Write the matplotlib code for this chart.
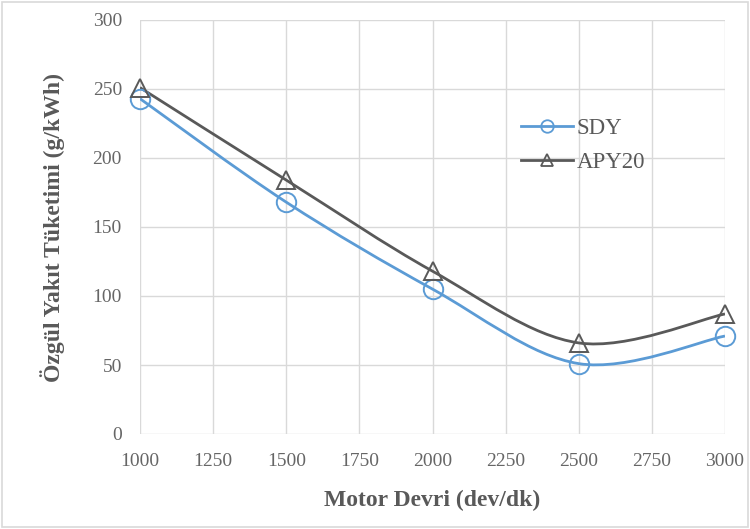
import matplotlib
matplotlib.use("Agg")
import matplotlib.pyplot as plt
from matplotlib.path import Path
from matplotlib.patches import PathPatch, Rectangle
from matplotlib.lines import Line2D
import numpy as np

rpm = [1000, 1500, 2000, 2500, 3000]
sdy = [243, 168, 105, 51, 71]
apy20 = [251, 184, 118, 66, 87]
x_ticks = [1000, 1250, 1500, 1750, 2000, 2250, 2500, 2750, 3000]
y_ticks = [0, 50, 100, 150, 200, 250, 300]

plt.rcParams['font.family'] = ['Liberation Serif', 'DejaVu Serif']

fig = plt.figure(figsize=(7.5, 5.29), dpi=100)
ax = fig.add_axes([140/750, 1-434/529, 585/750, 414/529])

def smooth_path(xs, ys):
    pts = np.column_stack([xs, ys]).astype(float)
    n = len(pts)
    verts = [pts[0]]
    codes = [Path.MOVETO]
    for i in range(n-1):
        p0 = pts[i-1] if i > 0 else pts[i]
        p1 = pts[i]
        p2 = pts[i+1]
        p3 = pts[i+2] if i+2 < n else pts[i+1]
        c1 = p1 + (p2 - p0) / 6.0
        c2 = p2 - (p3 - p1) / 6.0
        verts += [c1, c2, p2]
        codes += [Path.CURVE4]*3
    return Path(verts, codes)

blue = '#5b9bd5'
gray = '#595959'
for ys, col, mk in [(sdy, blue, 'o'), (apy20, gray, '^')]:
    patch = PathPatch(smooth_path(rpm, ys), facecolor='none', edgecolor=col, lw=2.0, zorder=3)
    ax.add_patch(patch)
    ax.plot(rpm, ys, linestyle='none', marker=mk, markersize=14 if mk == 'o' else 13,
            markerfacecolor='none', markeredgecolor=col, markeredgewidth=1.4, zorder=4,
            clip_on=False)

ax.set_xlim(1000, 3000)
ax.set_ylim(0, 300)
ax.set_xticks(x_ticks)
ax.set_yticks(y_ticks)
ax.grid(True, color='#d9d9d9', lw=1.0)
ax.set_axisbelow(True)
for s in ax.spines.values():
    s.set_visible(False)
ax.tick_params(length=0, colors='#666666', labelsize=14)
ax.tick_params(axis='x', pad=14)
ax.tick_params(axis='y', pad=13)
ax.set_xlabel('Motor Devri (dev/dk)', fontsize=17, fontweight='bold', color='#595959', labelpad=14)
ax.set_ylabel('Özgül Yakıt Tüketimi (g/kWh)', fontsize=17, fontweight='bold', color='#595959', labelpad=20)

handles = [Line2D([], [], color=blue, lw=2, marker='o', markersize=9, markerfacecolor='none', markeredgewidth=1.3),
           Line2D([], [], color=gray, lw=2, marker='^', markersize=8, markerfacecolor='none', markeredgewidth=1.3)]
leg = ax.legend(handles, ['SDY', 'APY20'], loc='upper left', bbox_to_anchor=(0.635, 0.785),
                frameon=False, fontsize=16.5, handlelength=2.3, handletextpad=0.15, labelspacing=0.55,
                labelcolor='#595959', borderaxespad=0)

fig.patches.append(Rectangle((0.003, 0.003), 0.994, 0.994, transform=fig.transFigure,
                             fill=False, edgecolor='#d9d9d9', lw=1.2))
fig.savefig('out.png', dpi=100)
